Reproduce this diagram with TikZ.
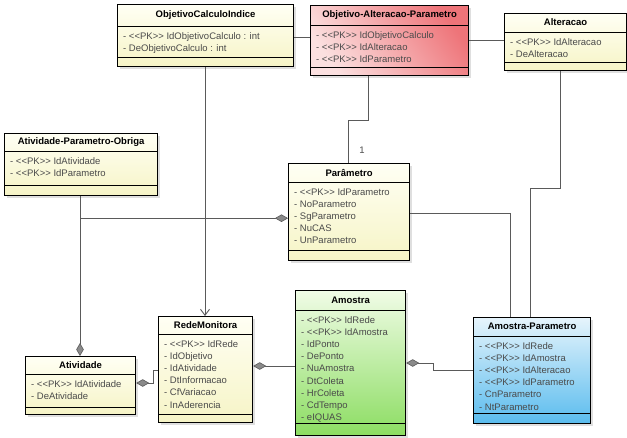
\documentclass[tikz,border=0pt]{standalone}
\usepackage{fontspec}
\setmainfont{Liberation Sans}
\usetikzlibrary{arrows.meta, calc, shadows}

\definecolor{clsyl1}{HTML}{FFFFF4}
\definecolor{clsyl2}{HTML}{F6F4C6}
\definecolor{clsrd1}{HTML}{FBE0E0}
\definecolor{clsrd2}{HTML}{EE7479}
\definecolor{clsgr1}{HTML}{F0FCE6}
\definecolor{clsgr2}{HTML}{8CDD62}
\definecolor{clsbl1}{HTML}{E6F4FC}
\definecolor{clsbl2}{HTML}{5ABCEE}
\definecolor{attgray}{HTML}{4A4A4A}
\definecolor{lnkgray}{HTML}{5A5A5A}
\definecolor{agggray}{HTML}{8A8A8A}

\newcommand{\pkey}{{<}{<}PK{>}{>}}

\begin{document}
\begin{tikzpicture}[
    x=1pt, y=-1pt,
    font=\fontsize{9.5}{12.2}\selectfont,
    cls/.style    = {draw=black, line width=1.2pt, anchor=north west, inner sep=0pt,
                     drop shadow={shadow xshift=2.5pt, shadow yshift=-2.5pt, opacity=0.25}},
    ylwcls/.style = {top color=clsyl1, bottom color=clsyl2},
    redcls/.style = {top color=clsrd2, bottom color=clsrd1, shading angle=-55},
    grncls/.style = {top color=clsgr1, bottom color=clsgr2},
    blucls/.style = {top color=clsbl1, bottom color=clsbl2},
    ttl/.style    = {font=\fontsize{9.5}{12.2}\selectfont\bfseries, inner sep=0pt},
    att/.style    = {anchor=north west, align=left, inner sep=0pt, text=attgray},
    sepl/.style   = {line width=1pt},
    lnk/.style    = {draw=lnkgray, line width=0.9pt},
    agg/.tip      = {Diamond[length=13pt, width=7.5pt, color=lnkgray, fill=agggray, line width=0.6pt]},
    nav/.tip      = {Straight Barb[length=6pt, width=9pt]}
]
\useasboundingbox (0,0) rectangle (627,437);

% ObjetivoCalculoIndice
\node[cls, ylwcls, minimum width=176, minimum height=62] (objcalc) at (117,4) {};
\node[ttl] at ($(objcalc.north)+(0,11)$) {ObjetivoCalculoIndice};
\draw[sepl] ($(objcalc.north west)+(0,22)$) -- ($(objcalc.north east)+(0,22)$);
\draw[sepl] ($(objcalc.north west)+(0,53)$) -- ($(objcalc.north east)+(0,53)$);
\node[att] at ($(objcalc.north west)+(6,28)$) {- \pkey{} IdObjetivoCalculo : int\\- DeObjetivoCalculo : int};

% Objetivo-Alteracao-Parametro
\node[cls, redcls, minimum width=158, minimum height=70] (oap) at (310,5) {};
\node[ttl] at ($(oap.north)+(0,10)$) {Objetivo-Alteracao-Parametro};
\draw[sepl] ($(oap.north west)+(0,20)$) -- ($(oap.north east)+(0,20)$);
\draw[sepl] ($(oap.north west)+(0,62)$) -- ($(oap.north east)+(0,62)$);
\node[att] at ($(oap.north west)+(6,26)$) {- \pkey{} IdObjetivoCalculo\\- \pkey{} IdAlteracao\\- \pkey{} IdParametro};

% Alteracao
\node[cls, ylwcls, minimum width=122, minimum height=57] (alter) at (504,13) {};
\node[ttl] at ($(alter.north)+(0,9.5)$) {Alteracao};
\draw[sepl] ($(alter.north west)+(0,19)$) -- ($(alter.north east)+(0,19)$);
\draw[sepl] ($(alter.north west)+(0,49)$) -- ($(alter.north east)+(0,49)$);
\node[att] at ($(alter.north west)+(6,25)$) {- \pkey{} IdAlteracao\\- DeAlteracao};

% Atividade-Parametro-Obriga
\node[cls, ylwcls, minimum width=153, minimum height=62] (apo) at (4,133) {};
\node[ttl] at ($(apo.north)+(0,9)$) {Atividade-Parametro-Obriga};
\draw[sepl] ($(apo.north west)+(0,18)$) -- ($(apo.north east)+(0,18)$);
\draw[sepl] ($(apo.north west)+(0,52)$) -- ($(apo.north east)+(0,52)$);
\node[att] at ($(apo.north west)+(6,24)$) {- \pkey{} IdAtividade\\- \pkey{} IdParametro};

% Parametro
\node[cls, ylwcls, minimum width=121, minimum height=97] (param) at (288,163) {};
\node[ttl] at ($(param.north)+(0,9.5)$) {Parâmetro};
\draw[sepl] ($(param.north west)+(0,19)$) -- ($(param.north east)+(0,19)$);
\draw[sepl] ($(param.north west)+(0,87)$) -- ($(param.north east)+(0,87)$);
\node[att] at ($(param.north west)+(6,25)$) {- \pkey{} IdParametro\\- NoParametro\\- SgParametro\\- NuCAS\\- UnParametro};

% Atividade
\node[cls, ylwcls, minimum width=110, minimum height=58] (ativ) at (25,356) {};
\node[ttl] at ($(ativ.north)+(0,9)$) {Atividade};
\draw[sepl] ($(ativ.north west)+(0,18)$) -- ($(ativ.north east)+(0,18)$);
\draw[sepl] ($(ativ.north west)+(0,51)$) -- ($(ativ.north east)+(0,51)$);
\node[att] at ($(ativ.north west)+(6,24)$) {- \pkey{} IdAtividade\\- DeAtividade};

% RedeMonitora
\node[cls, ylwcls, minimum width=94, minimum height=106] (rede) at (158,316) {};
\node[ttl] at ($(rede.north)+(0,9)$) {RedeMonitora};
\draw[sepl] ($(rede.north west)+(0,18)$) -- ($(rede.north east)+(0,18)$);
\draw[sepl] ($(rede.north west)+(0,98)$) -- ($(rede.north east)+(0,98)$);
\node[att] at ($(rede.north west)+(6,24)$) {- \pkey{} IdRede\\- IdObjetivo\\- IdAtividade\\- DtInformacao\\- CfVariacao\\- InAderencia};

% Amostra
\node[cls, grncls, minimum width=110, minimum height=145] (amostra) at (295,290) {};
\node[ttl] at ($(amostra.north)+(0,10)$) {Amostra};
\draw[sepl] ($(amostra.north west)+(0,20)$) -- ($(amostra.north east)+(0,20)$);
\draw[sepl] ($(amostra.north west)+(0,133)$) -- ($(amostra.north east)+(0,133)$);
\node[att] at ($(amostra.north west)+(6,26)$) {- \pkey{} IdRede\\- \pkey{} IdAmostra\\- IdPonto\\- DePonto\\- NuAmostra\\- DtColeta\\- HrColeta\\- CdTempo\\- eIQUAS};

% Amostra-Parametro
\node[cls, blucls, minimum width=117, minimum height=106] (ampar) at (473,317) {};
\node[ttl] at ($(ampar.north)+(0,9.5)$) {Amostra-Parametro};
\draw[sepl] ($(ampar.north west)+(0,19)$) -- ($(ampar.north east)+(0,19)$);
\draw[sepl] ($(ampar.north west)+(0,96)$) -- ($(ampar.north east)+(0,96)$);
\node[att] at ($(ampar.north west)+(6,25)$) {- \pkey{} IdRede\\- \pkey{} IdAmostra\\- \pkey{} IdAlteracao\\- \pkey{} IdParametro\\- CnParametro\\- NtParametro};

% Ligacoes de cima
\draw[lnk] ($(objcalc.north east)+(0,33)$) -- ($(oap.north west)+(0,32)$);
\draw[lnk] (oap.east) -- (oap.east -| alter.west);
\draw[lnk] ($(oap.south west)+(58,0)$) |- ($(param.north west)+(60,-43)$) -- ($(param.north west)+(60,0)$);
\node[text=attgray] (mult) at ($(param.north west)+(74,-13)$) {1};
\draw[lnk] ($(alter.south west)+(56,0)$) |- ($(ampar.north west)+(57,-129)$) -- ($(ampar.north west)+(57,0)$);
\draw[lnk] ($(param.north east)+(0,50)$) -| ($(ampar.north west)+(37,0)$);

% Atividade-Parametro-Obriga -> Atividade, Parametro
\coordinate (jct) at ($(apo.south west)+(76,22)$);
\draw[lnk, -agg] ($(apo.south west)+(76,0)$) -- ($(ativ.north west)+(55,0)$);
\draw[lnk, -agg] (jct) -- (jct -| param.west);

% ObjetivoCalculoIndice -> RedeMonitora
\draw[lnk, -nav] ($(objcalc.south west)+(88,0)$) -- ($(rede.north west)+(47,0)$);

% Ligacoes de baixo
\draw[lnk, agg-] ($(ativ.north east)+(0,27)$) -- ++(17,0) |- ($(rede.north west)+(0,54)$);
\draw[lnk, agg-] ($(rede.north east)+(0,50)$) -- ($(amostra.north west)+(0,76)$);
\draw[lnk, agg-] ($(amostra.north east)+(0,73)$) -- ++(27,0) |- ($(ampar.north west)+(0,53)$);

\end{tikzpicture}
\end{document}
